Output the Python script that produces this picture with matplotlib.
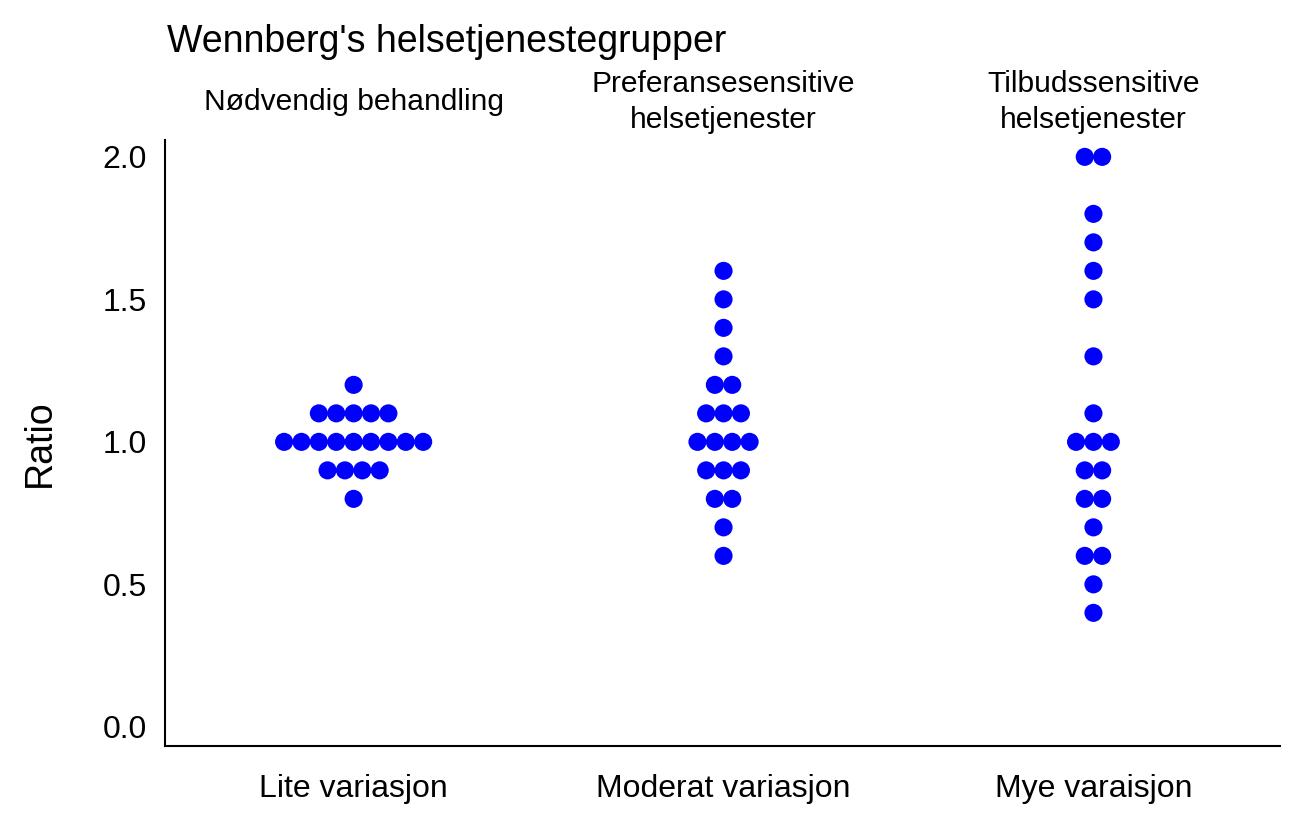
import numpy as np
import matplotlib
matplotlib.use('Agg')
import matplotlib.pyplot as plt

plt.rcParams['font.family'] = ['Liberation Sans', 'DejaVu Sans']

categories = ['Lite variasjon', 'Moderat variasjon', 'Mye varaisjon']
group_titles = ['Nødvendig behandling',
                'Preferansesensitive\nhelsetjenester',
                'Tilbudssensitive\nhelsetjenester']

lite = [1.2,
        1.1, 1.1, 1.1, 1.1, 1.1,
        1.0, 1.0, 1.0, 1.0, 1.0, 1.0, 1.0, 1.0, 1.0,
        0.9, 0.9, 0.9, 0.9,
        0.8]
moderat = [1.6, 1.5, 1.4, 1.3,
           1.2, 1.2,
           1.1, 1.1, 1.1,
           1.0, 1.0, 1.0, 1.0,
           0.9, 0.9, 0.9,
           0.8, 0.8,
           0.7, 0.6]
mye = [2.0, 2.0, 1.8, 1.7, 1.6, 1.5, 1.3, 1.1,
       1.0, 1.0, 1.0,
       0.9, 0.9,
       0.8, 0.8,
       0.7,
       0.6, 0.6,
       0.5, 0.4]
groups = [lite, moderat, mye]

dot_gap = 0.047  # horizontal spacing between stacked dots (x units)

fig = plt.figure(figsize=(12.99, 8.27), dpi=100)
ax = fig.add_axes([0.127, 0.098, 0.858, 0.733])

for i, vals in enumerate(groups):
    vals = np.round(np.array(vals), 2)
    xs, ys = [], []
    for v in np.unique(vals):
        n = np.sum(vals == v)
        offs = (np.arange(n) - (n - 1) / 2) * dot_gap
        xs.extend(i + offs)
        ys.extend([v] * n)
    ax.scatter(xs, ys, s=170, color='#0000ff', edgecolors='none', zorder=3)
    ax.annotate(group_titles[i], xy=(i, 1.0), xycoords=('data', 'axes fraction'),
                xytext=(0, 27), textcoords='offset points',
                ha='center', va='center', fontsize=21.6, linespacing=1.37,
                annotation_clip=False)

ax.set_xlim(-0.51, 2.503)
ax.set_ylim(-0.067, 2.06)
ax.set_xticks(range(len(categories)))
ax.set_xticklabels(categories)
ax.set_yticks([0.0, 0.5, 1.0, 1.5, 2.0])
ax.set_yticklabels(['0.0', '0.5', '1.0', '1.5', '2.0'])
ax.tick_params(length=0, labelsize=23)
ax.tick_params(axis='x', pad=20)
ax.tick_params(axis='y', pad=13)
for side in ['top', 'right']:
    ax.spines[side].set_visible(False)
for side in ['left', 'bottom']:
    ax.spines[side].set_linewidth(1.5)
ax.set_ylabel('Ratio', fontsize=27, labelpad=32)

fig.text(167 / 1299, 1 - 42 / 827, "Wennberg's helsetjenestegrupper",
         fontsize=27, ha='left', va='center')

plt.savefig('out.png', dpi=100)
